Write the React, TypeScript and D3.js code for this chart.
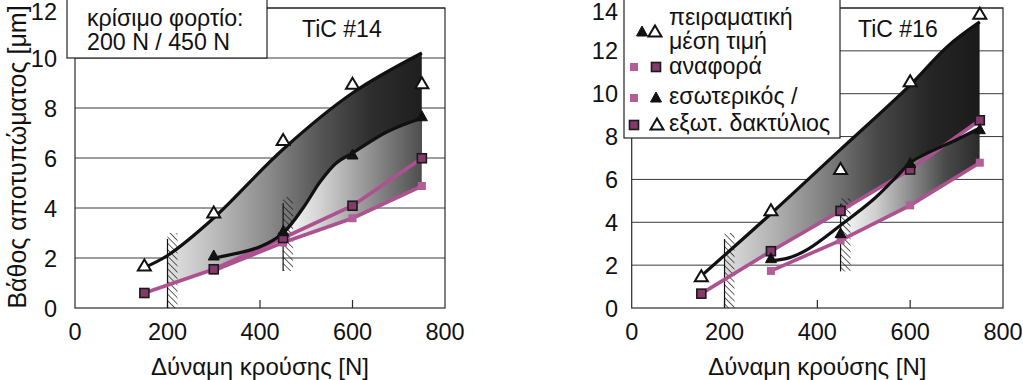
import React from 'react';
import * as d3 from 'd3';

// ---------- data ----------
const outerLoads = [150, 300, 450, 600, 750];
const innerLoads = [300, 450, 600, 750];
const xTicks = [0, 200, 400, 600, 800];
const yTicks14 = [0, 2, 4, 6, 8, 10, 12];
const yTicks16 = [0, 2, 4, 6, 8, 10, 12, 14];
const criticalLoads = [200, 450];

// TiC #14
const t14OuterMean = [1.68, 3.8, 6.7, 8.95, 8.97];
const t14InnerMean = [2.08, 3.05, 6.12, 7.65];
const t14OuterRef = [0.6, 1.55, 2.8, 4.09, 5.99];
const t14InnerRef = [1.5, 2.62, 3.59, 4.88];
const t14OuterFitX = [150, 200, 300, 450, 600, 750];
const t14OuterFitY = [1.62, 2.1, 3.6, 6.35, 8.6, 10.2];
const t14InnerFitX = [300, 400, 450, 495, 530, 565, 600, 675, 750];
const t14InnerFitY = [2.0, 2.45, 3.0, 4.05, 5.05, 5.8, 6.2, 7.05, 7.6];
const t14HatchTop = [3.0, 4.44];
const t14HatchBottom = [0, 1.48];

// TiC #16
const t16OuterMean = [1.45, 4.53, 6.46, 10.55, 13.7];
const t16InnerMean = [2.3, 3.47, 6.74, 8.32];
const t16OuterRef = [0.67, 2.65, 4.53, 6.46, 8.76];
const t16InnerRef = [1.73, 3.16, 4.79, 6.78];
const t16OuterFitX = [150, 300, 450, 600, 680, 750];
const t16OuterFitY = [1.5, 4.4, 7.4, 10.4, 12.2, 13.35];
const t16InnerFitX = [300, 340, 380, 450, 520, 565, 605, 700, 750];
const t16InnerFitY = [2.2, 2.35, 2.75, 3.86, 5.05, 6.0, 6.85, 7.85, 8.4];
const t16HatchTop = [3.5, 5.12];
const t16HatchBottom = [0, 1.71];

const xTitle = 'Δύναμη κρούσης [N]';
const yTitle = 'Βάθος αποτυπώματος [μm]';
const legend14 = ['κρίσιμο φορτίο:', '200 N / 450 N'];
const legend16 = ['πειραματική', 'μέση τιμή', 'αναφορά', 'εσωτερικός /', 'εξωτ. δακτύλιος'];

// ---------- styles ----------
const FONT = '"Liberation Sans", Arial, Helvetica, sans-serif';
const PINK = '#ad5290';
const PINK_SQ = '#b25e98';
const MAUVE = '#86396b';
const TICK_FS = 23.5;
const TEXT_FS = 24;
const LEG_FS = 23.2;

type Pt = [number, number];
const zip = (xs: number[], ys: number[]): Pt[] => xs.map((x, i) => [x, ys[i]]);

const triPath = (cx: number, cy: number, w: number, h: number) =>
  `M${cx},${cy - h * 0.6}L${cx + w / 2},${cy + h * 0.4}L${cx - w / 2},${cy + h * 0.4}Z`;

function OpenTri({ x, y }: { x: number; y: number }) {
  return <path d={triPath(x, y, 13, 11)} fill="#fff" stroke="#111" strokeWidth={2} />;
}
function FilledTri({ x, y }: { x: number; y: number }) {
  return <path d={triPath(x, y, 11, 10)} fill="#111" stroke="#111" strokeWidth={1} />;
}
function DarkSq({ x, y }: { x: number; y: number }) {
  return <rect x={x - 4.5} y={y - 4.5} width={9} height={9} fill={MAUVE} stroke="#1a1a1a" strokeWidth={1.6} />;
}
function PinkSq({ x, y }: { x: number; y: number }) {
  return <rect x={x - 4} y={y - 4} width={8} height={8} fill={PINK_SQ} stroke="none" />;
}

interface PanelProps {
  id: string;
  x0: number;
  x1: number;
  yMax: number;
  yTicks: number[];
  yLabelX: number;
  outerMean: number[];
  innerMean: number[];
  outerRef: number[];
  innerRef: number[];
  outerFit: Pt[];
  innerFit: Pt[];
  hatchTop: number[];
  hatchBottom: number[];
  stopsA: string[];
  stopsB: string[];
}

function Panel(p: PanelProps) {
  const x = d3.scaleLinear().domain([0, 800]).range([p.x0, p.x1]);
  const y = d3.scaleLinear().domain([0, p.yMax]).range([308, 8]);
  const curve = d3.line<Pt>().x(d => x(d[0])).y(d => y(d[1])).curve(d3.curveCatmullRom.alpha(0.5));
  const lin = d3.line<Pt>().x(d => x(d[0])).y(d => y(d[1]));

  const outerRefPts = zip(outerLoads, p.outerRef);
  const innerRefPts = zip(innerLoads, p.innerRef);

  const band = (top: Pt[], bottom: Pt[]) => {
    const t = curve(top) as string;
    const b = lin(bottom.slice().reverse()) as string;
    return t + 'L' + b.slice(1) + 'Z';
  };
  const areaA = band(p.outerFit, outerRefPts);
  const areaB = band(p.innerFit, innerRefPts);

  const xEnd = x(750);
  const gradStops = (stops: string[]) =>
    stops.map((c, i) => <stop key={i} offset={i / (stops.length - 1)} stopColor={c} />);

  return (
    <g>
      <defs>
        <linearGradient id={`gA${p.id}`} gradientUnits="userSpaceOnUse" x1={x(criticalLoads[0])} x2={xEnd} y1={0} y2={0}>
          {gradStops(p.stopsA)}
        </linearGradient>
        <linearGradient id={`gB${p.id}`} gradientUnits="userSpaceOnUse" x1={x(criticalLoads[1])} x2={xEnd} y1={0} y2={0}>
          {gradStops(p.stopsB)}
        </linearGradient>
        <clipPath id={`cA${p.id}`}>
          <rect x={x(criticalLoads[0])} y={0} width={xEnd - x(criticalLoads[0])} height={320} />
        </clipPath>
        <clipPath id={`cB${p.id}`}>
          <rect x={x(criticalLoads[1])} y={0} width={xEnd - x(criticalLoads[1])} height={320} />
        </clipPath>
        <pattern id={`h${p.id}`} patternUnits="userSpaceOnUse" width={4.5} height={4.5} patternTransform="rotate(-45)">
          <line x1={0} y1={0} x2={0} y2={4.5} stroke="#111" strokeWidth={1.3} />
        </pattern>
      </defs>

      {/* grid */}
      {p.yTicks.filter(t => t > 0).map(t => (
        <line key={t} x1={p.x0} x2={p.x1} y1={y(t)} y2={y(t)} stroke="#3a3a3a" strokeWidth={1} />
      ))}
      {/* frame */}
      <rect x={p.x0} y={y(p.yMax)} width={p.x1 - p.x0} height={y(0) - y(p.yMax)} fill="none" stroke="#2a2a2a" strokeWidth={1.2} />
      {xTicks.slice(1, -1).map(t => (
        <line key={t} x1={x(t)} x2={x(t)} y1={y(0)} y2={y(0) - 8} stroke="#2a2a2a" strokeWidth={1.2} />
      ))}

      {/* shaded bands */}
      <path d={areaA} fill={`url(#gA${p.id})`} clipPath={`url(#cA${p.id})`} />
      <path d={areaB} fill={`url(#gB${p.id})`} clipPath={`url(#cB${p.id})`} />

      {/* critical-load hatches */}
      {criticalLoads.map((c, i) => (
        <g key={c}>
          <rect x={x(c)} y={y(p.hatchTop[i])} width={10} height={y(p.hatchBottom[i]) - y(p.hatchTop[i])} fill={`url(#h${p.id})`} />
          <line x1={x(c)} x2={x(c)} y1={y(p.hatchTop[i]) + 6} y2={y(p.hatchBottom[i])} stroke="#111" strokeWidth={1.2} />
        </g>
      ))}

      {/* reference lines */}
      <path d={lin(innerRefPts) as string} fill="none" stroke={PINK} strokeWidth={3.6} />
      <path d={lin(outerRefPts) as string} fill="none" stroke={PINK} strokeWidth={3.6} />

      {/* fitted curves */}
      <path d={curve(p.outerFit) as string} fill="none" stroke="#111" strokeWidth={3.2} />
      <path d={curve(p.innerFit) as string} fill="none" stroke="#111" strokeWidth={3.2} />

      {/* markers */}
      {innerLoads.map((l, i) => <PinkSq key={'ps' + l} x={x(l)} y={y(p.innerRef[i])} />)}
      {outerLoads.map((l, i) => <DarkSq key={'ds' + l} x={x(l)} y={y(p.outerRef[i])} />)}
      {innerLoads.map((l, i) => <FilledTri key={'ft' + l} x={x(l)} y={y(p.innerMean[i])} />)}
      {outerLoads.map((l, i) => <OpenTri key={'ot' + l} x={x(l)} y={y(p.outerMean[i])} />)}

      {/* axes labels */}
      {p.yTicks.map(t => (
        <text key={t} x={p.yLabelX} y={Math.max(y(t) + 8.5, 20)} textAnchor="end" fontSize={TICK_FS} fill="#111">{t}</text>
      ))}
      {xTicks.map(t => (
        <text key={t} x={x(t)} y={340} textAnchor="middle" fontSize={TICK_FS} fill="#111">{t}</text>
      ))}
      <text x={(p.x0 + p.x1) / 2} y={375} textAnchor="middle" fontSize={TEXT_FS} fill="#111">{xTitle}</text>
    </g>
  );
}

export default function App() {
  return (
    <svg width={1023} height={380} style={{ display: 'block', position: 'absolute', left: 0, top: 0, background: '#fff' }} fontFamily={FONT}>
      <rect width={1023} height={380} fill="#fff" />
      <Panel
        id="14" x0={75} x1={445} yMax={12} yTicks={yTicks14} yLabelX={57}
        outerMean={t14OuterMean} innerMean={t14InnerMean} outerRef={t14OuterRef} innerRef={t14InnerRef}
        outerFit={zip(t14OuterFitX, t14OuterFitY)} innerFit={zip(t14InnerFitX, t14InnerFitY)}
        hatchTop={t14HatchTop} hatchBottom={t14HatchBottom}
        stopsA={['#e2e2e2', '#b8b8b8', '#8a8a8a', '#555555', '#2e2e2e', '#1e1e1e']}
        stopsB={['#fafafa', '#d6d6d6', '#a8a8a8', '#7a7a7a', '#4e4e4e']}
      />
      <Panel
        id="16" x0={631.7} x1={1003} yMax={14} yTicks={yTicks16} yLabelX={618}
        outerMean={t16OuterMean} innerMean={t16InnerMean} outerRef={t16OuterRef} innerRef={t16InnerRef}
        outerFit={zip(t16OuterFitX, t16OuterFitY)} innerFit={zip(t16InnerFitX, t16InnerFitY)}
        hatchTop={t16HatchTop} hatchBottom={t16HatchBottom}
        stopsA={['#dedede', '#b0b0b0', '#7e7e7e', '#484848', '#262626', '#1a1a1a']}
        stopsB={['#fafafa', '#d0d0d0', '#8c8c8c', '#4a4a4a', '#2a2a2a']}
      />

      {/* y title */}
      <text transform="translate(26,157) rotate(-90)" textAnchor="middle" fontSize={25} fill="#111">{yTitle}</text>

      {/* left legend */}
      <rect x={67} y={-1} width={200} height={59} fill="#fff" stroke="#222" strokeWidth={1.2} />
      <text x={87} y={26} fontSize={LEG_FS} fill="#111">{legend14[0]}</text>
      <text x={87} y={50} fontSize={LEG_FS} fill="#111">{legend14[1]}</text>
      <text x={302} y={37} fontSize={23} fill="#111">TiC #14</text>

      {/* right legend */}
      <rect x={624} y={-1} width={216} height={139} fill="#fff" stroke="#222" strokeWidth={1.2} />
      <FilledTri x={642} y={32} />
      <OpenTri x={655} y={32} />
      <text x={669} y={25} fontSize={LEG_FS} fill="#111">{legend16[0]}</text>
      <text x={669} y={49} fontSize={LEG_FS} fill="#111">{legend16[1]}</text>
      <PinkSq x={634} y={67} />
      <DarkSq x={656} y={67} />
      <text x={669} y={74} fontSize={LEG_FS} fill="#111">{legend16[2]}</text>
      <PinkSq x={634} y={98} />
      <FilledTri x={656} y={98} />
      <text x={669} y={104} fontSize={LEG_FS} fill="#111">{legend16[3]}</text>
      <DarkSq x={634} y={125} />
      <OpenTri x={657} y={125} />
      <text x={669} y={131} fontSize={LEG_FS} fill="#111">{legend16[4]}</text>
      <text x={858} y={37} fontSize={23} fill="#111">TiC #16</text>
    </svg>
  );
}
